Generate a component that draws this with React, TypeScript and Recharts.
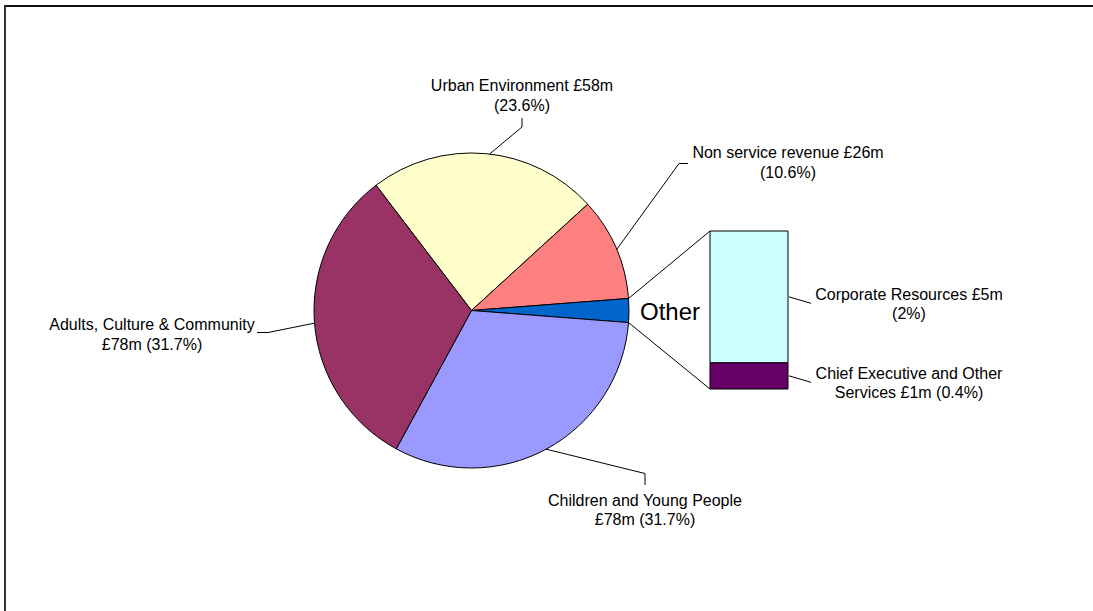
import React from 'react';
import { PieChart, Pie, Cell, BarChart, Bar, XAxis, YAxis, LabelList } from 'recharts';

const W = 1093;
const H = 611;

// main pie, clockwise from the top-left
const pieNames = ['Urban Environment', 'Non service revenue', 'Other', 'Children and Young People', 'Adults, Culture & Community'];
const pieValues = [58, 26, 6, 78, 78];
const pieColors = ['#FFFFCC', '#FF8080', '#0066CC', '#9999FF', '#993366'];
const pieLabels = [
  ['Urban Environment £58m', '(23.6%)'],
  ['Non service revenue £26m', '(10.6%)'],
  ['Other'],
  ['Children and Young People', '£78m (31.7%)'],
  ['Adults, Culture & Community', '£78m (31.7%)'],
];

// the "Other" slice broken out into the bar (bottom to top)
const otherNames = ['Chief Executive and Other Services', 'Corporate Resources'];
const otherValues = [1, 5];
const otherColors = ['#660066', '#CCFFFF'];
const otherLabels = [
  ['Chief Executive and Other', 'Services £1m (0.4%)'],
  ['Corporate Resources £5m', '(2%)'],
];

const OTHER_INDEX = pieNames.indexOf('Other');

const pieData = pieNames.map((name, i) => ({ name, value: pieValues[i] }));
const barRow: any = { name: 'Other' };
otherNames.forEach((_, i) => {
  barRow['s' + i] = otherValues[i];
});

// excel puts the middle of the "Other" slice at 3 o'clock
const total = pieValues.reduce((a, b) => a + b, 0);
const before = pieValues.slice(0, OTHER_INDEX).reduce((a, b) => a + b, 0);
const startAngle = ((before + pieValues[OTHER_INDEX] / 2) / total) * 360;

const CX = 471.5;
const CY = 310.5;
const R = 157.5;
const BAR = { left: 710, top: 231, width: 78, height: 158 };
const PIE_W = 900;
const BAR_W = 1040;
const FONT = '"Liberation Sans", Arial, sans-serif';
const RAD = Math.PI / 180;

// where each pie label sits, and the leader line bends
const pieLabelLayout: Record<number, any> = {
  0: { edge: 83.4, path: [[522, 127], [522, 118]], x: 522, y: 91, lh: 20 },
  1: { edge: 22.8, path: [[679, 163.5], [688, 163.5]], x: 788, y: 158.3, lh: 20 },
  3: { edge: -61.7, path: [[645, 473.5], [645, 485]], x: 645, y: 506, lh: 19 },
  4: { edge: 184.6, path: [[268, 332.5], [257, 332.5]], x: 152, y: 329.5, lh: 20.5 },
};

const renderPieLabel = (props: any) => {
  const { cx, cy, outerRadius, midAngle, percent, index } = props;
  if (index === OTHER_INDEX) {
    const half = percent * 180;
    const a1 = (midAngle + half) * RAD;
    const a2 = (midAngle - half) * RAD;
    return (
      <g>
        <line x1={cx + outerRadius * Math.cos(a1)} y1={cy - outerRadius * Math.sin(a1)} x2={BAR.left} y2={BAR.top} stroke="#000" />
        <line x1={cx + outerRadius * Math.cos(a2)} y1={cy - outerRadius * Math.sin(a2)} x2={BAR.left} y2={BAR.top + BAR.height} stroke="#000" />
        <text x={cx + outerRadius + 41} y={cy + 9.5} textAnchor="middle" fontSize={24} fill="#000" fontFamily={FONT}>
          {pieLabels[index][0]}
        </text>
      </g>
    );
  }
  const lay = pieLabelLayout[index];
  if (!lay) return null;
  const ex = cx + outerRadius * Math.cos(lay.edge * RAD);
  const ey = cy - outerRadius * Math.sin(lay.edge * RAD);
  const pts = [[ex, ey], ...lay.path].map((p: number[]) => p.join(',')).join(' ');
  return (
    <g>
      <polyline points={pts} fill="none" stroke="#000" />
      {pieLabels[index].map((line, k) => (
        <text key={k} x={lay.x} y={lay.y + k * lay.lh} textAnchor="middle" fontSize={16} fill="#000" fontFamily={FONT}>
          {line}
        </text>
      ))}
    </g>
  );
};

const renderBarLabel = (p: any, i: number) => {
  const vb = p.viewBox && p.viewBox.width != null ? p.viewBox : p;
  const { x, y, width, height } = vb;
  const x0 = x + width + 1;
  const mid = y + height / 2;
  const ex = x0 + 22;
  const ey = mid + 6.5;
  return (
    <g>
      <line x1={x0} y1={mid} x2={ex} y2={ey} stroke="#000" />
      {otherLabels[i].map((line, k) => (
        <text key={k} x={x + width + 121} y={ey - 3 + k * 19} textAnchor="middle" fontSize={16} fill="#000" fontFamily={FONT}>
          {line}
        </text>
      ))}
    </g>
  );
};

const App: React.FC = () => {
  return (
    <div style={{ position: 'fixed', left: 0, top: 0, right: 0, bottom: 0, overflow: 'hidden', background: '#fff', fontFamily: FONT }}>
      {/* chart frame: only the top and left edges are in view */}
      <div style={{ position: 'absolute', left: 4, top: 5, right: 0, height: 2, background: '#111' }} />
      <div style={{ position: 'absolute', left: 4, top: 5, width: 2, bottom: 0, background: '#333' }} />
      <div style={{ position: 'absolute', left: 0, top: 0 }}>
        <PieChart width={PIE_W} height={H} margin={{ top: 0, right: 0, bottom: 0, left: 0 }}>
          <Pie
            data={pieData}
            dataKey="value"
            nameKey="name"
            cx={CX}
            cy={CY}
            outerRadius={R}
            startAngle={startAngle}
            endAngle={startAngle - 360}
            stroke="#000"
            strokeWidth={1}
            label={renderPieLabel}
            labelLine={false}
            isAnimationActive={false}
          >
            {pieData.map((d, i) => (
              <Cell key={d.name} fill={pieColors[i]} />
            ))}
          </Pie>
        </PieChart>
      </div>
      <div style={{ position: 'absolute', left: 0, top: 0 }}>
        <BarChart
          width={BAR_W}
          height={H}
          data={[barRow]}
          barCategoryGap={0}
          margin={{ left: BAR.left, top: BAR.top, right: BAR_W - BAR.left - BAR.width, bottom: H - BAR.top - BAR.height }}
        >
          <XAxis dataKey="name" hide />
          <YAxis hide domain={[0, otherValues.reduce((a, b) => a + b, 0)]} />
          {otherNames.map((n, i) => (
            <Bar key={n} name={n} dataKey={'s' + i} stackId="other" fill={otherColors[i]} stroke="#000" strokeWidth={1} isAnimationActive={false}>
              <LabelList dataKey={'s' + i} content={(p: any) => renderBarLabel(p, i)} />
            </Bar>
          ))}
        </BarChart>
      </div>
    </div>
  );
};

export default App;
